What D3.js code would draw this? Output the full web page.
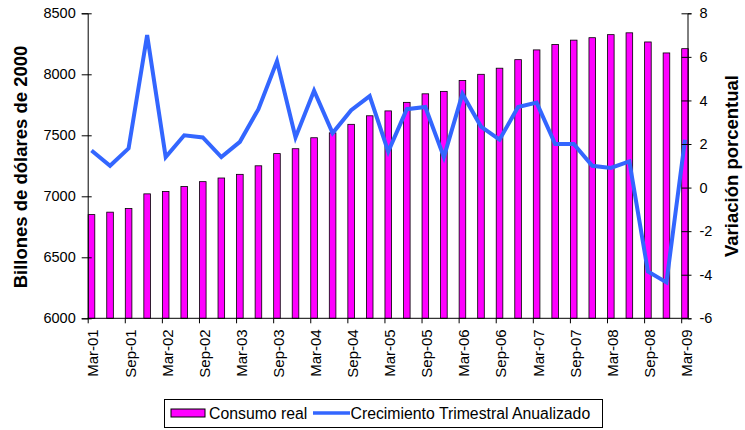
<script src="https://d3js.org/d3.v7.min.js"></script>
<style>
  body { margin: 0; background: #fff; }
  text { font-family: "Liberation Sans", Arial, sans-serif; }
</style>
<div id="chart"></div>
<script>
  // quarters, Mar-01 .. Mar-09
  var quarters = ["Mar-01","Jun-01","Sep-01","Dic-01","Mar-02","Jun-02","Sep-02","Dic-02",
                  "Mar-03","Jun-03","Sep-03","Dic-03","Mar-04","Jun-04","Sep-04","Dic-04",
                  "Mar-05","Jun-05","Sep-05","Dic-05","Mar-06","Jun-06","Sep-06","Dic-06",
                  "Mar-07","Jun-07","Sep-07","Dic-07","Mar-08","Jun-08","Sep-08","Dic-08","Mar-09"];
  // Consumo real (billones de dólares de 2000)
  var consumo = [6850,6870,6900,7020,7040,7080,7120,7150,7180,7250,7350,7390,7480,7520,7590,7660,
                 7700,7770,7840,7860,7950,8000,8050,8120,8200,8245,8280,8300,8325,8340,8265,8175,8210];
  // Crecimiento trimestral anualizado (%)
  var crecimiento = [1.7,1.0,1.8,7.0,1.4,2.4,2.3,1.4,2.1,3.6,5.8,2.3,4.45,2.5,3.55,4.2,
                     1.65,3.6,3.7,1.4,4.3,2.8,2.2,3.7,3.9,2.0,2.0,1.0,0.9,1.2,-3.85,-4.35,2.2];
  var leftTicks = [6000,6500,7000,7500,8000,8500];
  var rightTicks = [-6,-4,-2,0,2,4,6,8];
  var xLabels = quarters.filter(function(d, i) { return i % 2 === 0; });

  var width = 745, height = 430;
  var plotLeft = 87.7, plotRight = 687.5, plotTop = 13.3, plotBottom = 318.3;
  var barW = 6.6;

  var svg = d3.select("#chart").append("svg")
      .attr("width", width)
      .attr("height", height);

  var x = d3.scalePoint().domain(quarters).range([plotLeft, 681.2]);
  var yL = d3.scaleLinear().domain([6000, 8500]).range([plotBottom, plotTop]);
  var yR = d3.scaleLinear().domain([-6, 8]).range([plotBottom, plotTop]);

  // bars
  svg.append("g").selectAll("rect")
    .data(quarters)
    .enter().append("rect")
      .attr("x", function(d) { return x(d) + 0.5; })
      .attr("y", function(d, i) { return yL(consumo[i]); })
      .attr("width", barW)
      .attr("height", function(d, i) { return plotBottom - yL(consumo[i]); })
      .attr("fill", "#ff00ff")
      .attr("stroke", "#000")
      .attr("stroke-width", 0.8);

  // line
  var line = d3.line()
      .x(function(d, i) { return x(quarters[i]) + 0.5 + barW / 2; })
      .y(function(d) { return yR(d); });
  svg.append("path")
    .datum(crecimiento)
    .attr("d", line)
    .attr("fill", "none")
    .attr("stroke", "#3366ff")
    .attr("stroke-width", 4)
    .attr("stroke-linejoin", "miter");

  // plain hyphen for negatives, like the original
  var fmt = function(d) { return String(d); };

  // left axis
  var gL = svg.append("g")
      .attr("transform", "translate(" + plotLeft + ",0)")
      .call(d3.axisLeft(yL).tickValues(leftTicks).tickFormat(fmt).tickSize(6).tickPadding(6));
  gL.selectAll(".tick line").attr("x2", -6).attr("x1", 4);
  gL.selectAll("text").style("font-size", "14.5px").attr("fill", "#000");

  // right axis
  var gR = svg.append("g")
      .attr("transform", "translate(" + plotRight + ",0)")
      .call(d3.axisRight(yR).tickValues(rightTicks).tickFormat(fmt).tickSize(4).tickPadding(8));
  gR.selectAll(".tick line").attr("x1", -6).attr("x2", 4);
  gR.selectAll("text").style("font-size", "14.5px").attr("fill", "#000");

  // bottom axis
  var gX = svg.append("g")
      .attr("transform", "translate(0," + plotBottom + ")")
      .call(d3.axisBottom(x).tickValues(xLabels).tickSize(5).tickSizeOuter(0));
  gX.select(".domain").attr("d", "M" + plotLeft + ",0H" + plotRight);
  gX.selectAll("text")
      .style("font-size", "15px")
      .attr("fill", "#000")
      .attr("text-anchor", "end")
      .attr("x", -11)
      .attr("y", 0)
      .attr("dy", "0.35em")
      .attr("transform", "rotate(-90) translate(0,5)");

  svg.selectAll(".domain").attr("stroke", "#000");
  svg.selectAll(".tick line").attr("stroke", "#000");

  // axis titles
  svg.append("text")
    .attr("transform", "translate(27,167) rotate(-90)")
    .attr("text-anchor", "middle")
    .style("font-size", "18.5px")
    .style("font-weight", "bold")
    .text("Billones de dólares de 2000");

  svg.append("text")
    .attr("transform", "translate(738,166) rotate(-90)")
    .attr("text-anchor", "middle")
    .style("font-size", "18.5px")
    .style("font-weight", "bold")
    .text("Variación porcentual");

  // legend
  var lg = svg.append("g");
  lg.append("rect")
    .attr("x", 164.5).attr("y", 399.5)
    .attr("width", 438).attr("height", 28)
    .attr("fill", "#fff").attr("stroke", "#000");
  lg.append("rect")
    .attr("x", 171).attr("y", 409)
    .attr("width", 34).attr("height", 8)
    .attr("fill", "#ff00ff").attr("stroke", "#000");
  lg.append("text")
    .attr("x", 209).attr("y", 419)
    .style("font-size", "15.8px")
    .text("Consumo real");
  lg.append("line")
    .attr("x1", 313).attr("x2", 350)
    .attr("y1", 413).attr("y2", 413)
    .attr("stroke", "#3366ff").attr("stroke-width", 3.5);
  lg.append("text")
    .attr("x", 350.5).attr("y", 419)
    .style("font-size", "15.8px")
    .text("Crecimiento Trimestral Anualizado");
</script>
